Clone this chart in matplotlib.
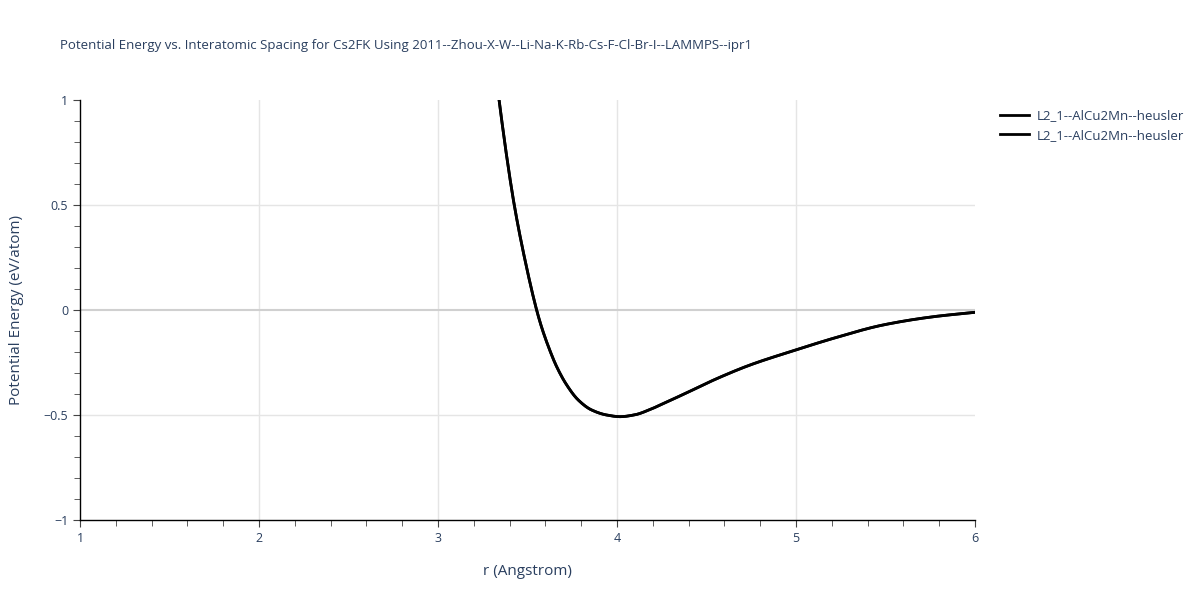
import numpy as np
import matplotlib.pyplot as plt
from matplotlib.ticker import MultipleLocator, FuncFormatter

# values
r = [3.30, 3.341, 3.384, 3.426, 3.482, 3.551, 3.58, 3.617, 3.663, 3.719, 3.784, 3.858,
     3.942, 4.017, 4.1, 4.184, 4.27, 4.37, 4.557, 4.743, 5.0, 5.208, 5.488, 5.767, 6.0]
energy = [1.27, 1.0, 0.73, 0.5, 0.254, 0.0, -0.085, -0.175, -0.27, -0.357, -0.429, -0.476,
          -0.5, -0.508, -0.499, -0.474, -0.441, -0.402, -0.327, -0.262, -0.19, -0.135,
          -0.071, -0.032, -0.011]
trace_names = ['L2_1--AlCu2Mn--heusler', 'L2_1--AlCu2Mn--heusler']


def pchip(xs, ys, xnew):
    # shape-preserving cubic through the read points
    x = np.asarray(xs, float)
    y = np.asarray(ys, float)
    h = np.diff(x)
    d = np.diff(y) / h
    m = np.zeros_like(y)
    for k in range(1, len(x) - 1):
        if d[k - 1] * d[k] > 0:
            w1 = 2 * h[k] + h[k - 1]
            w2 = h[k] + 2 * h[k - 1]
            m[k] = (w1 + w2) / (w1 / d[k - 1] + w2 / d[k])
    m[0] = d[0]
    m[-1] = d[-1]
    i = np.clip(np.searchsorted(x, xnew) - 1, 0, len(x) - 2)
    t = (xnew - x[i]) / h[i]
    h00 = 2 * t ** 3 - 3 * t ** 2 + 1
    h10 = t ** 3 - 2 * t ** 2 + t
    h01 = -2 * t ** 3 + 3 * t ** 2
    h11 = t ** 3 - t ** 2
    return h00 * y[i] + h10 * h[i] * m[i] + h01 * y[i + 1] + h11 * h[i] * m[i + 1]


r_fine = np.linspace(r[0], r[-1], 600)
e_fine = pchip(r, energy, r_fine)

text_col = '#2a3f5f'
plt.rcParams['font.family'] = ['Open Sans', 'DejaVu Sans']

fig = plt.figure(figsize=(12, 6), dpi=100)
ax = fig.add_axes([80 / 1200, 80 / 600, 895 / 1200, 420 / 600])

for v in [-0.5, 0.5]:
    ax.axhline(v, color='#e5e5e5', lw=1, zorder=0)
for v in [2, 3, 4, 5]:
    ax.axvline(v, color='#e5e5e5', lw=1, zorder=0)
ax.axhline(0, color='#d0d0d0', lw=1.5, zorder=0)

for name in trace_names:
    ax.plot(r_fine, e_fine, color='black', lw=2, label=name)

ax.set_xlim(1, 6)
ax.set_ylim(-1, 1)
ax.xaxis.set_major_locator(MultipleLocator(1))
ax.xaxis.set_minor_locator(MultipleLocator(0.2))
ax.yaxis.set_major_locator(MultipleLocator(0.5))
ax.yaxis.set_minor_locator(MultipleLocator(0.1))
ax.yaxis.set_major_formatter(FuncFormatter(lambda v, p: ('%g' % v).replace('-', '\u2212')))

for side in ['top', 'right']:
    ax.spines[side].set_visible(False)
for side in ['left', 'bottom']:
    ax.spines[side].set_color('black')
    ax.spines[side].set_linewidth(1)

ax.tick_params(which='both', direction='out', colors='#444444', labelcolor=text_col, labelsize=9)
ax.tick_params(which='major', length=5)
ax.tick_params(which='minor', length=4)

ax.set_xlabel('r (Angstrom)', fontsize=11, color=text_col, labelpad=14)
ax.set_ylabel('Potential Energy (eV/atom)', fontsize=11, color=text_col, labelpad=14)
fig.text(60 / 1200, 1 - 45 / 600, 'Potential Energy vs. Interatomic Spacing for Cs2FK Using '
         '2011--Zhou-X-W--Li-Na-K-Rb-Cs-F-Cl-Br-I--LAMMPS--ipr1',
         fontsize=9.5, color=text_col, va='center', ha='left')

fig.legend(loc='upper left', bbox_to_anchor=(995 / 1200, 1 - 104 / 600), frameon=False,
           fontsize=9.5, labelcolor=text_col, handlelength=2.2, handletextpad=0.6,
           labelspacing=0.5, borderaxespad=0)

fig.savefig('out.png', dpi=100)
